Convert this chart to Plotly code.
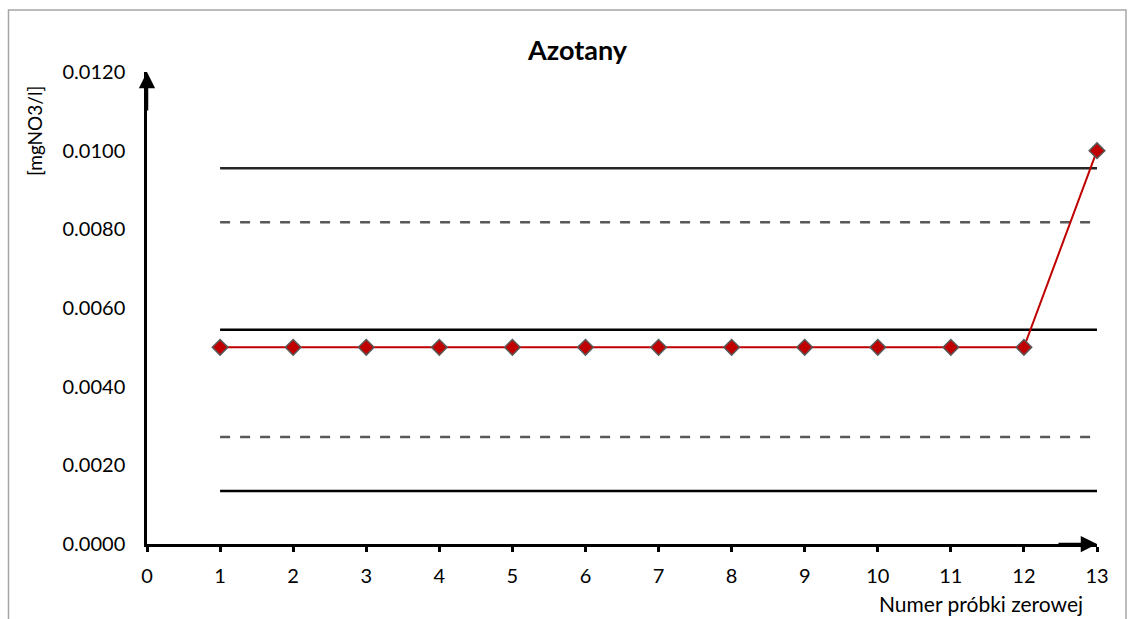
import plotly.graph_objects as go

# Data
samples = list(range(1, 14))
values = [0.005] * 12 + [0.010]

line_x = [1, 13]
ucl = 0.00955   # upper control line (solid)
uwl = 0.00818   # upper warning line (dashed)
center = 0.00545  # central line (solid)
lwl = 0.00272   # lower warning line (dashed)
lcl = 0.00135   # lower control line (solid)

title_text = "Azotany"
y_label = "[mgNO3/l]"
x_label = "Numer próbki zerowej"

FONT = "Lato"

fig = go.Figure()

def hline(v, dash, color):
    fig.add_trace(go.Scatter(x=line_x, y=[v, v], mode="lines",
                             line=dict(color=color, width=2.5, dash=dash),
                             hoverinfo="skip", showlegend=False, cliponaxis=False))

hline(ucl, "solid", "#262626")
hline(uwl, "10px,10px", "#595959")
hline(center, "solid", "#000000")
hline(lwl, "10px,10px", "#595959")
hline(lcl, "solid", "#000000")

fig.add_trace(go.Scatter(x=samples, y=values, mode="lines+markers",
                         line=dict(color="#C00000", width=2),
                         marker=dict(symbol="diamond", size=12, color="#C00000",
                                     line=dict(color="#595959", width=1.5)),
                         showlegend=False, cliponaxis=False))

# page pixel -> paper helpers (plot area: x 147..1097, y 72..544 in page pixels)
def px(p):
    return (p - 147) / 950

def py(p):
    return (544 - p) / 472

fig.update_layout(
    width=1134, height=619,
    margin=dict(l=147, r=37, t=72, b=75),
    paper_bgcolor="white", plot_bgcolor="white",
    font=dict(family=FONT, size=20, color="#000000"),
    showlegend=False,
    xaxis=dict(range=[0, 13], tickmode="linear", tick0=0, dtick=1,
               showgrid=False, zeroline=False, showline=True,
               linecolor="#000000", linewidth=2.5,
               ticks="outside", ticklen=5, tickwidth=2.5, tickcolor="#000000",
               ticklabelstandoff=7,
               tickfont=dict(family=FONT, size=20)),
    yaxis=dict(range=[0, 0.012], tickmode="linear", tick0=0, dtick=0.002,
               tickformat=".4f", showgrid=False, zeroline=False, showline=True,
               linecolor="#000000", linewidth=2.5, ticks="",
               ticklabelstandoff=15,
               tickfont=dict(family=FONT, size=20)),
    shapes=[dict(type="rect", xref="paper", yref="paper",
                 x0=px(8.5), x1=px(1126), y0=py(640), y1=py(10),
                 line=dict(color="#A6A6A6", width=1.5), fillcolor="rgba(0,0,0,0)",
                 layer="below")],
    annotations=[
        dict(text="<b>" + title_text + "</b>", xref="paper", yref="paper",
             x=px(577), y=py(50), showarrow=False,
             font=dict(family=FONT, size=27), xanchor="center", yanchor="middle"),
        dict(text=y_label, xref="paper", yref="paper",
             x=px(34), y=py(131), showarrow=False, textangle=-90,
             font=dict(family=FONT, size=19), xanchor="center", yanchor="middle"),
        dict(text=x_label, xref="paper", yref="paper",
             x=px(1085), y=py(603), showarrow=False,
             font=dict(family=FONT, size=21), xanchor="right", yanchor="middle"),
        # axis arrows
        dict(x=0, y=0.012, xref="x", yref="y", ax=0, ay=40, axref="pixel", ayref="pixel",
             showarrow=True, arrowhead=2, arrowsize=1.3, arrowwidth=2.5, arrowcolor="#000000",
             text=""),
        dict(x=13, y=0, xref="x", yref="y", ax=-40, ay=0, axref="pixel", ayref="pixel",
             showarrow=True, arrowhead=2, arrowsize=1.3, arrowwidth=2.5, arrowcolor="#000000",
             text=""),
    ],
)

fig.write_html("out.html", config={"displayModeBar": False},
               post_script="document.body.style.margin='0';document.body.style.overflow='hidden';")
